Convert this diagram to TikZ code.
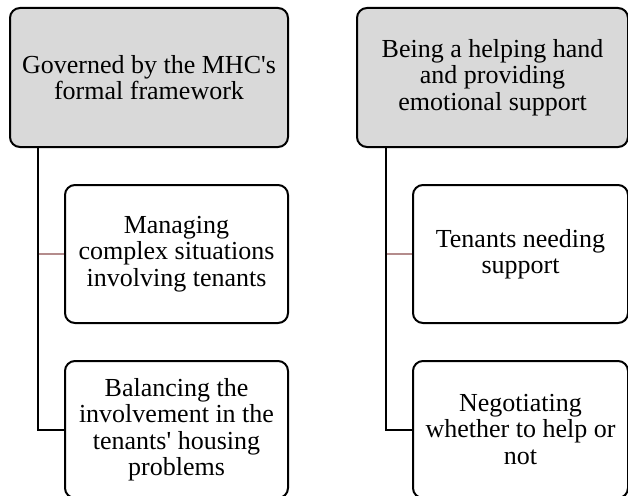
\documentclass[tikz,border=0pt]{standalone}
\usepackage{fontspec}
\setmainfont{Liberation Serif}
\usetikzlibrary{positioning}

\begin{document}
\begin{tikzpicture}[x=1pt, y=-1pt, node distance=36pt]
    \tikzstyle{theme} = [rectangle, rounded corners=10pt, draw=black, line width=2pt, fill=gray!30, align=center, font=\fontsize{26}{26.5}\selectfont, inner sep=2pt]
    \tikzstyle{subtheme} = [rectangle, rounded corners=10pt, draw=black, line width=2pt, fill=white, align=center, font=\fontsize{26}{26.5}\selectfont, inner sep=2pt]
    \tikzstyle{trunk} = [line width=2pt, black]
    \tikzstyle{branch} = [line width=1.6pt, color={rgb,255:red,180;green,140;blue,140}]

    \useasboundingbox (0,0) rectangle (628,495);

    % left column
    \node (t1) [theme, minimum width=278pt, minimum height=139pt] at (149,77.5) {Governed by the MHC\textquotesingle s\\formal framework};
    \node (s11) [subtheme, minimum width=223pt, minimum height=138pt, below=36pt of t1.south east, anchor=north east] {Managing\\complex situations\\involving tenants};
    \node (s12) [subtheme, minimum width=223pt, minimum height=137pt, below=36pt of s11.south east, anchor=north east] {Balancing the\\involvement in the\\tenants\textquotesingle\ housing\\problems};

    % right column
    \node (t2) [theme, minimum width=271pt, minimum height=139pt] at (492.5,77.5) {Being a helping hand\\and providing\\emotional support};
    \node (s21) [subtheme, minimum width=215pt, minimum height=138pt, below=36pt of t2.south east, anchor=north east] {Tenants needing\\support};
    \node (s22) [subtheme, minimum width=215pt, minimum height=137pt, below=36pt of s21.south east, anchor=north east] {Negotiating\\whether to help or\\not};

    % connectors
    \coordinate (c1) at (38,0);
    \coordinate (c2) at (386,0);
    \draw [branch] (c1 |- s11.west) -- (s11.west);
    \draw [trunk] (c1 |- t1.south) -- (c1 |- s12.west) -- (s12.west);
    \draw [branch] (c2 |- s21.west) -- (s21.west);
    \draw [trunk] (c2 |- t2.south) -- (c2 |- s22.west) -- (s22.west);
\end{tikzpicture}
\end{document}
